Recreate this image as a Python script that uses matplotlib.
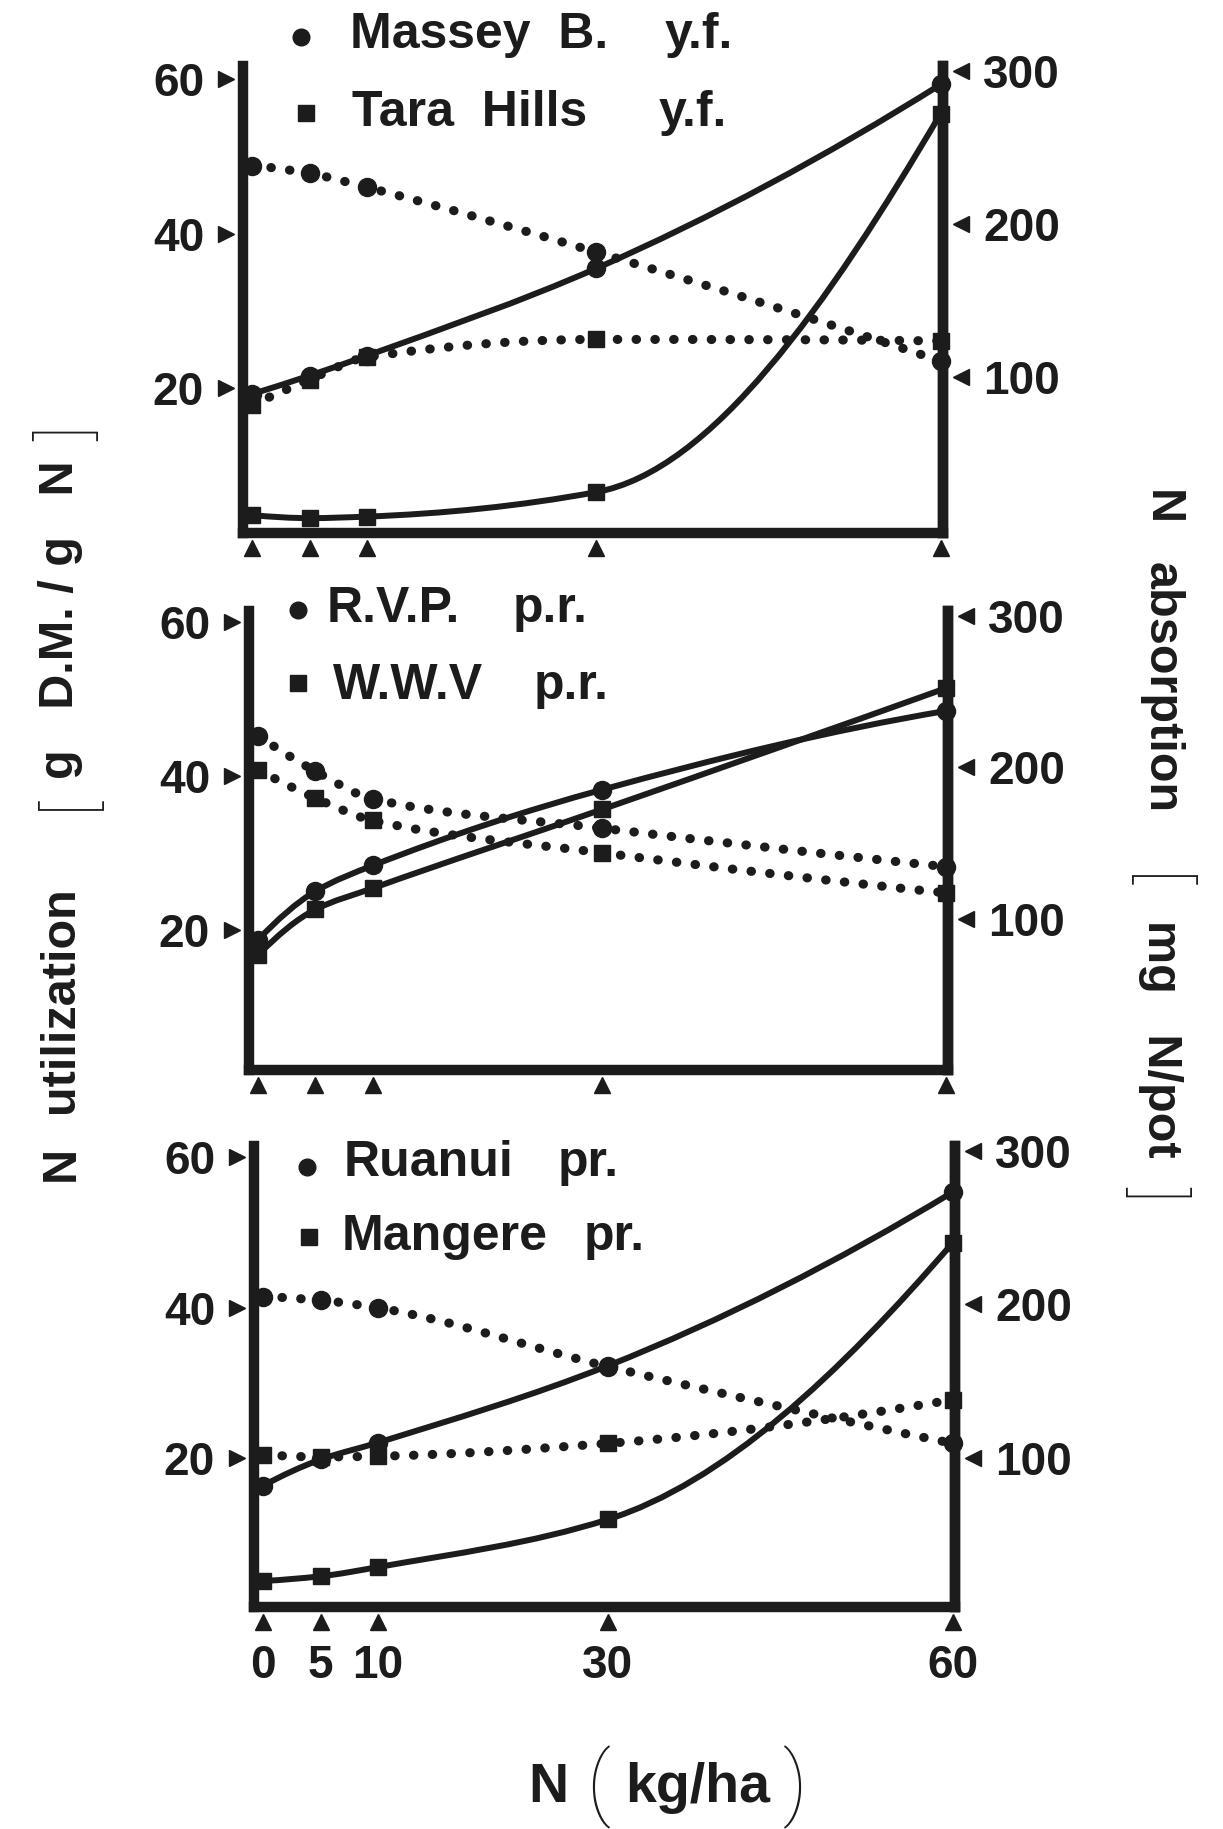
import matplotlib
matplotlib.use("Agg")
import numpy as np
import matplotlib.pyplot as plt
from matplotlib.path import Path
from matplotlib.patches import PathPatch
from matplotlib.transforms import blended_transform_factory

# ---------------- data ----------------
N_RATE = [0, 5, 10, 30, 60]
X_TICK_LABELS = ["0", "5", "10", "30", "60"]
LEFT_TICKS = [20, 40, 60]
RIGHT_TICKS = [100, 200, 300]

# panel 1
massey_util = [48.8, 47.8, 46.0, 37.6, 23.5]
massey_abs = [89, 101, 114, 171, 291]
tara_util = [17.8, 21.1, 24.0, 26.3, 26.1]
tara_abs = [10, 8, 9, 25, 272]
# panel 2
rvp_util = [45.2, 40.6, 37.0, 33.2, 28.2]
rvp_abs = [86, 118, 135, 185, 237]
wwv_util = [40.8, 37.1, 34.2, 30.0, 24.8]
wwv_abs = [76, 106, 120, 172, 252]
# panel 3
ruanui_util = [41.5, 41.0, 40.0, 32.2, 22.0]
ruanui_abs = [82, 99, 110, 160, 273]
mangere_util = [20.5, 20.2, 20.3, 22.0, 27.8]
mangere_abs = [20, 23, 29, 60, 240]

legend_names = [["Massey  B.", "Tara  Hills"], ["R.V.P.", "W.W.V"], ["Ruanui", "Mangere"]]
legend_suffix = [["y.f.", "y.f."], ["p.r.", "p.r."], ["pr.", "pr."]]

# ---------------- style ----------------
W, H = 1223, 1829
INK = "#1c1c1c"
plt.rcParams["font.family"] = ["Liberation Sans", "DejaVu Sans"]
plt.rcParams["font.weight"] = "bold"

fig = plt.figure(figsize=(W / 100, H / 100), dpi=100)
fig.patch.set_facecolor("white")


def smooth_path(x, y):
    x = np.asarray(x, float)
    y = np.asarray(y, float)
    h = np.diff(x)
    d = np.diff(y) / h
    n = len(y)
    m = np.zeros(n)
    for i in range(1, n - 1):
        if d[i - 1] * d[i] <= 0:
            m[i] = 0.0
        else:
            w1 = 2 * h[i] + h[i - 1]
            w2 = h[i] + 2 * h[i - 1]
            m[i] = (w1 + w2) / (w1 / d[i - 1] + w2 / d[i])

    def end(h0, h1, d0, d1):
        v = ((2 * h0 + h1) * d0 - h0 * d1) / (h0 + h1)
        if np.sign(v) != np.sign(d0):
            return 0.0
        if np.sign(d0) != np.sign(d1) and abs(v) > 3 * abs(d0):
            return 3 * d0
        return v

    m[0] = end(h[0], h[1], d[0], d[1])
    m[-1] = end(h[-1], h[-2], d[-1], d[-2])
    verts = [(x[0], y[0])]
    codes = [Path.MOVETO]
    for i in range(n - 1):
        verts += [(x[i] + h[i] / 3, y[i] + m[i] * h[i] / 3),
                  (x[i + 1] - h[i] / 3, y[i + 1] - m[i + 1] * h[i] / 3),
                  (x[i + 1], y[i + 1])]
        codes += [Path.CURVE4] * 3
    return Path(verts, codes)


# panel geometry in pixels: left, right, top, bottom
panels = [
    dict(box=(243, 943, 66, 533), lyl=(1.24, 61.7), ryl=(-1.7, 303),
         util=(massey_util, tara_util), absn=(massey_abs, tara_abs)),
    dict(box=(249, 948, 611, 1070), lyl=(1.8, 61.4), ryl=(0, 303),
         util=(rvp_util, wwv_util), absn=(rvp_abs, wwv_abs)),
    dict(box=(254, 955, 1146, 1607), lyl=(0.27, 61.5), ryl=(3, 303),
         util=(ruanui_util, mangere_util), absn=(ruanui_abs, mangere_abs)),
]

markers = ["o", "s"]
msizes = [13, 12]

for pi, p in enumerate(panels):
    l, r, t, b = p["box"]
    ax = fig.add_axes([l / W, 1 - b / H, (r - l) / W, (b - t) / H])
    ax.set_facecolor("none")
    ax2 = ax.twinx()
    ax.set_xlim(-0.8, 60.2)
    ax.set_ylim(*p["lyl"])
    ax2.set_ylim(*p["ryl"])
    ax.spines["top"].set_visible(False)
    ax2.spines["top"].set_visible(False)
    for s in ["left", "bottom", "right"]:
        ax.spines[s].set_linewidth(7.5)
        ax.spines[s].set_color(INK)
        ax.spines[s].set_capstyle("projecting")
    ax2.spines["left"].set_visible(False)
    ax2.spines["bottom"].set_visible(False)
    ax2.spines["right"].set_linewidth(7.5)
    ax2.spines["right"].set_color(INK)

    ax.set_yticks(LEFT_TICKS)
    ax.set_yticklabels([str(v) for v in LEFT_TICKS])
    ax2.set_yticks(RIGHT_TICKS)
    ax2.set_yticklabels([str(v) for v in RIGHT_TICKS])
    ax.set_xticks(N_RATE)
    if pi == 2:
        ax.set_xticklabels(X_TICK_LABELS)
    else:
        ax.set_xticklabels([""] * len(N_RATE))
    ax.tick_params(axis="y", length=0, pad=28, labelsize=33)
    ax2.tick_params(axis="y", length=0, pad=29, labelsize=33)
    ax.tick_params(axis="x", length=0, pad=27, labelsize=33)
    for lab in ax.get_yticklabels() + ax2.get_yticklabels() + ax.get_xticklabels():
        lab.set_fontweight("bold")
        lab.set_color(INK)

    # triangle tick marks
    tr_l = blended_transform_factory(ax.transAxes, ax.transData)
    ax.plot([-0.024] * len(LEFT_TICKS), LEFT_TICKS, ls="none", marker=">", ms=11,
            color=INK, transform=tr_l, clip_on=False)
    tr_r = blended_transform_factory(ax2.transAxes, ax2.transData)
    ax2.plot([1.026] * len(RIGHT_TICKS), RIGHT_TICKS, ls="none", marker="<", ms=11,
             color=INK, transform=tr_r, clip_on=False)
    tr_b = blended_transform_factory(ax.transData, ax.transAxes)
    ax.plot(N_RATE, [-0.033] * len(N_RATE), ls="none", marker="^", ms=12,
            color=INK, transform=tr_b, clip_on=False)

    for k in range(2):
        # utilization: dotted, left axis
        pu = PathPatch(smooth_path(N_RATE, p["util"][k]), fill=False, lw=6.6,
                       edgecolor=INK, linestyle=(0, (0.05, 2.0)), capstyle="round",
                       clip_on=False)
        ax.add_patch(pu)
        ax.plot(N_RATE, p["util"][k], ls="none", marker=markers[k], ms=msizes[k],
                color=INK, clip_on=False, zorder=4)
        # absorption: solid, right axis
        pa = PathPatch(smooth_path(N_RATE, p["absn"][k]), fill=False, lw=4.3,
                       edgecolor=INK, capstyle="round", clip_on=False)
        ax2.add_patch(pa)
        ax2.plot(N_RATE, p["absn"][k], ls="none", marker=markers[k], ms=msizes[k],
                 color=INK, clip_on=False, zorder=4)

# ---------------- annotation layer ----------------
an = fig.add_axes([0, 0, 1, 1])
an.set_xlim(0, W)
an.set_ylim(H, 0)
an.axis("off")
an.set_facecolor("none")

leg_rows = [
    [((301, 37), (350, 35), (665, 35)), ((306, 113), (352, 113), (659, 113))],
    [((298, 610), (327, 609), (513, 609)), ((298, 683), (333, 686), (534, 686))],
    [((307, 1167), (344, 1163), (558, 1163)), ((309, 1237), (342, 1237), (584, 1237))],
]
for pi in range(3):
    for k in range(2):
        (mx, my), (nx, ny), (sx, sy) = leg_rows[pi][k]
        an.plot([mx], [my], marker=markers[k], ms=12, color=INK, ls="none")
        an.text(nx, ny, legend_names[pi][k], fontsize=36, fontweight="bold", color=INK,
                ha="left", va="center")
        an.text(sx, sy, legend_suffix[pi][k], fontsize=36, fontweight="bold", color=INK,
                ha="left", va="center")

BR = dict(fontsize=50, fontweight="light", color=INK, ha="center", va="center",
          family=["Roboto", "DejaVu Sans"])
LB = dict(fontsize=35, fontweight="bold", color=INK, ha="center", va="center")
# left y label (reads bottom to top)
an.text(61, 1163, "N", rotation=90, **LB)
an.text(61, 1000, "utilization", rotation=90, **LB)
an.text(70, 803, "[", rotation=90, **BR)
an.text(61, 620, "g   D.M. / g   N", rotation=90, **LB)
an.text(70, 434, "]", rotation=90, **BR)
# right y label (reads top to bottom)
an.text(1161, 508, "N", rotation=-90, **LB)
an.text(1161, 688, "absorption", rotation=-90, **LB)
an.text(1154, 881, "[", rotation=-90, **BR)
an.text(1161, 1039, "mg   N/pot", rotation=-90, **LB)
an.text(1154, 1193, "]", rotation=-90, **BR)
# x label
XL = dict(fontsize=40, fontweight="bold", color=INK, ha="center", va="center")
an.text(548, 1788, "N", **XL)
an.text(598, 1787, "(", fontsize=58, fontweight="light", color=INK, ha="center",
        va="center", family=["Roboto", "DejaVu Sans"])
an.text(698, 1788, "kg/ha", **XL)
an.text(795, 1787, ")", fontsize=58, fontweight="light", color=INK, ha="center",
        va="center", family=["Roboto", "DejaVu Sans"])

fig.savefig("out.png", dpi=100, facecolor="white")
